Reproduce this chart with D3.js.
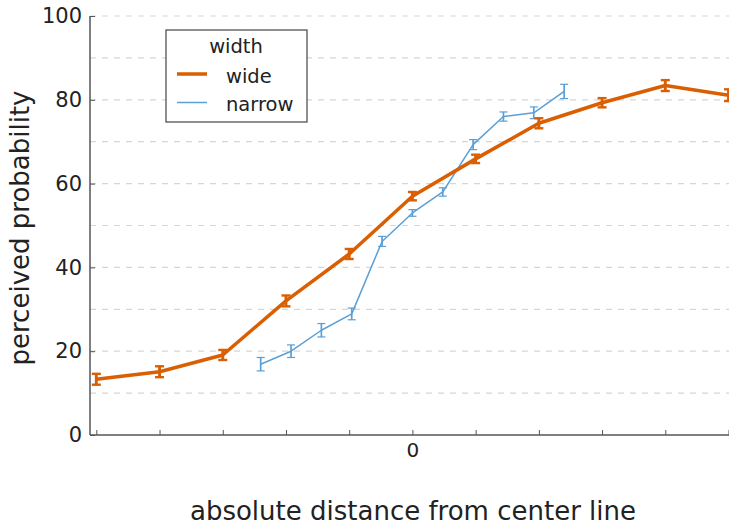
<!DOCTYPE html>
<html><head><meta charset="utf-8">
<script src="https://cdn.jsdelivr.net/npm/d3@7"></script>
<style>body{margin:0;background:#fff}svg{display:block}text{font-family:"DejaVu Sans",sans-serif;fill:#222}</style>
</head><body><svg id="c" width="729" height="526"></svg>
<script>
const wideX = [-5,-4,-3,-2,-1,0,1,2,3,4,5];
const wideY = [13.3,15.1,19.1,32.0,43.2,57.0,65.9,74.4,79.3,83.4,81.1];
const wideErr = [1.3,1.3,1.2,1.3,1.2,1.0,1.0,1.2,1.1,1.3,1.4];
const narrowX = [-2.4,-1.92,-1.44,-0.96,-0.48,0,0.48,0.96,1.44,1.92,2.4];
const narrowY = [16.9,20.0,25.0,28.9,46.2,53.0,58.0,69.3,76.0,76.9,82.0];
const narrowErr = [1.6,1.5,1.6,1.4,1.2,0.8,1.0,1.2,1.1,1.4,1.7];
const yTicks = [0,20,40,60,80,100];
const yGrid = [10,20,30,40,50,60,70,80,90,100];
const xTicks = [-5,-4,-3,-2,-1,0,1,2,3,4,5];
const xTickLabels = {"0":"0"};
const seriesNames = ["wide","narrow"];
const colors = {wide:"#d95f02", narrow:"#5a9fd6"};

const svg = d3.select("#c");
const x = d3.scaleLinear().domain([-5.1,5.0]).range([90,728.5]);
const y = d3.scaleLinear().domain([0,100]).range([435,16]);

// grid
svg.append("g").selectAll("line").data(yGrid).join("line")
  .attr("x1",90).attr("x2",729).attr("y1",d=>y(d)).attr("y2",d=>y(d))
  .attr("stroke","#d6d6d6").attr("stroke-width",1.2).attr("stroke-dasharray","6,6");

// axes
const yAxis = d3.axisLeft(y).tickValues(yTicks).tickSize(-5).tickPadding(8).tickFormat(d3.format("d"));
const gy = svg.append("g").attr("transform","translate(90,0)").call(yAxis);
gy.select(".domain").attr("stroke","#555").attr("stroke-width",1.5).attr("d","M0,435V16");
gy.selectAll(".tick line").attr("stroke","#555");
gy.selectAll("text").attr("font-size",21).attr("fill","#222").attr("font-family","DejaVu Sans");

const xAxis = d3.axisBottom(x).tickValues(xTicks).tickSize(-5).tickPadding(8).tickFormat(d=>xTickLabels[d]||"");
const gx = svg.append("g").attr("transform","translate(0,435)").call(xAxis);
gx.select(".domain").attr("stroke","#555").attr("stroke-width",1.5).attr("d","M90,0H729");
gx.selectAll(".tick line").attr("stroke","#555");
gx.selectAll("text").attr("font-size",20).attr("fill","#222").attr("font-family","DejaVu Sans");

// series
function drawSeries(xs, ys, es, color, lw, capW, capLw) {
  const data = xs.map((v,i)=>({x:v,y:ys[i],e:es[i]}));
  const g = svg.append("g");
  g.append("path").datum(data)
    .attr("d", d3.line().x(d=>x(d.x)).y(d=>y(d.y)))
    .attr("fill","none").attr("stroke",color).attr("stroke-width",lw).attr("stroke-linejoin","round");
  const eb = g.selectAll("g.eb").data(data).join("g");
  eb.append("line").attr("x1",d=>x(d.x)).attr("x2",d=>x(d.x))
    .attr("y1",d=>y(d.y-d.e)).attr("y2",d=>y(d.y+d.e)).attr("stroke",color).attr("stroke-width",capLw+0.5);
  eb.append("line").attr("x1",d=>x(d.x)-capW).attr("x2",d=>x(d.x)+capW)
    .attr("y1",d=>y(d.y-d.e)).attr("y2",d=>y(d.y-d.e)).attr("stroke",color).attr("stroke-width",capLw);
  eb.append("line").attr("x1",d=>x(d.x)-capW).attr("x2",d=>x(d.x)+capW)
    .attr("y1",d=>y(d.y+d.e)).attr("y2",d=>y(d.y+d.e)).attr("stroke",color).attr("stroke-width",capLw);
}
drawSeries(narrowX, narrowY, narrowErr, colors.narrow, 1.5, 4, 1.2);
drawSeries(wideX, wideY, wideErr, colors.wide, 3.5, 4.5, 2.4);

// axis labels
svg.append("text").attr("x",413).attr("y",520).attr("text-anchor","middle").attr("font-size",26)
  .text("absolute distance from center line");
svg.append("text").attr("transform","translate(29,228) rotate(-90)").attr("text-anchor","middle").attr("font-size",26)
  .text("perceived probability");

// legend
const lg = svg.append("g");
lg.append("rect").attr("x",166).attr("y",30).attr("width",141).attr("height",92)
  .attr("fill","#fff").attr("stroke","#444").attr("stroke-width",1.2);
lg.append("text").attr("x",236).attr("y",53).attr("text-anchor","middle").attr("font-size",19.5).text("width");
seriesNames.forEach((s,i)=>{
  const yy = 74 + i*28.5;
  lg.append("line").attr("x1",177).attr("x2",207).attr("y1",yy).attr("y2",yy)
    .attr("stroke",colors[s]).attr("stroke-width", s==="wide"?3.5:1.5);
  lg.append("text").attr("x",226).attr("y",yy+8.5).attr("font-size",19.5).text(s);
});
</script></body></html>
